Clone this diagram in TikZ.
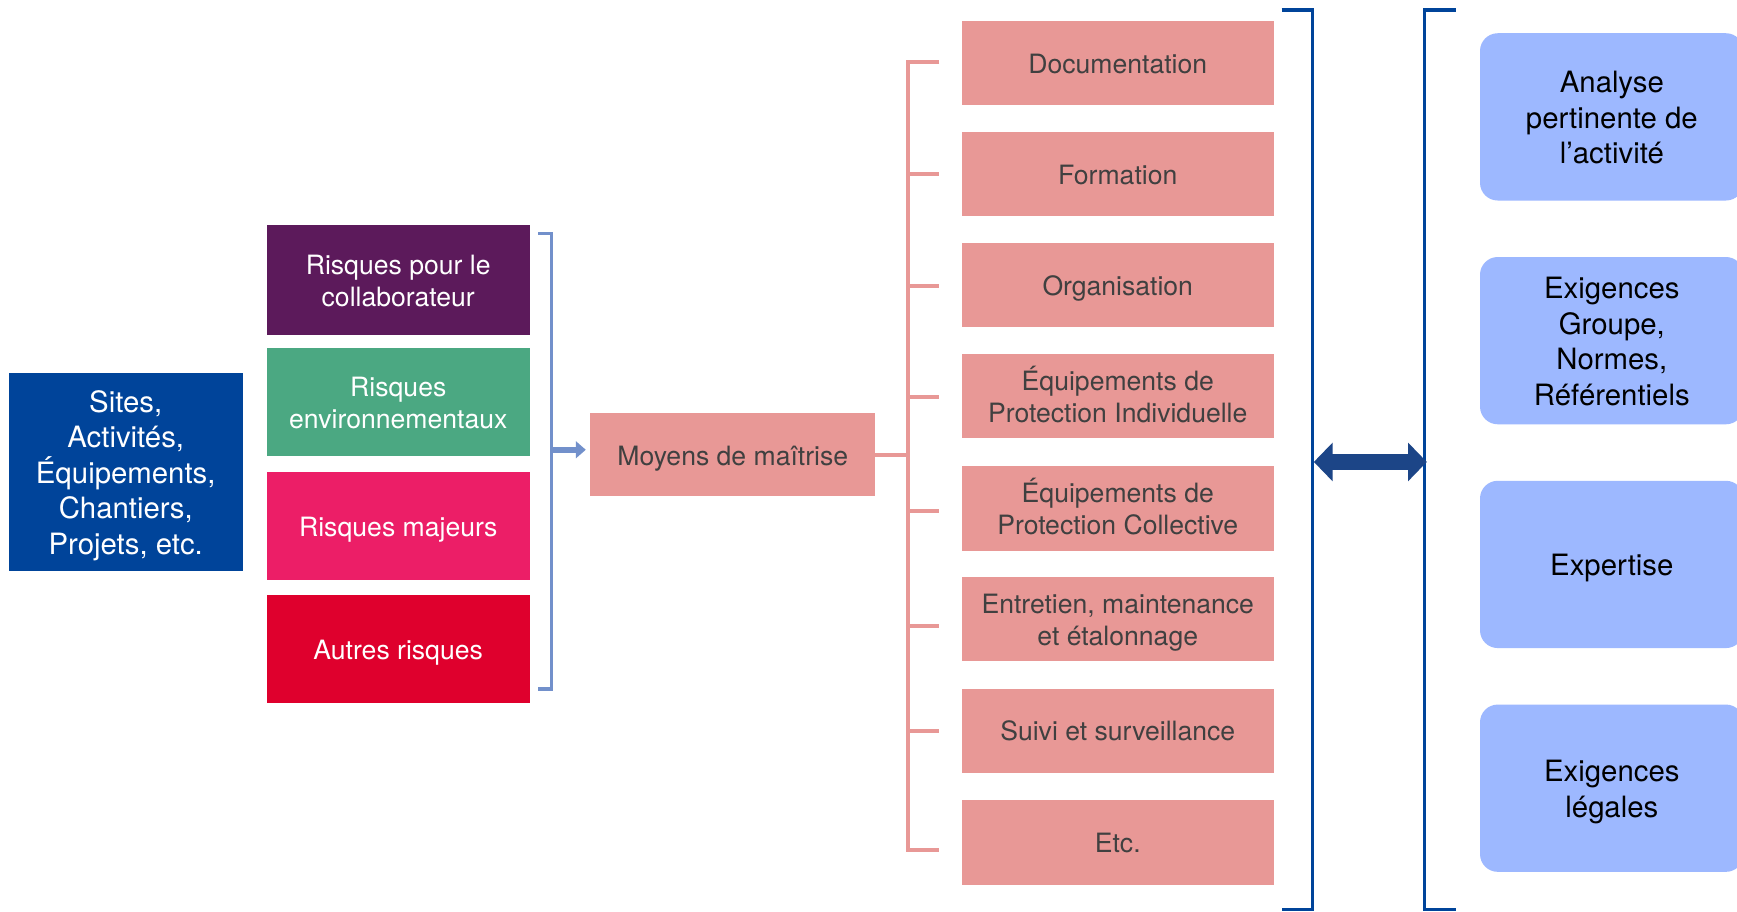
\documentclass[tikz,border=0pt]{standalone}
\usepackage{fontspec}
\setmainfont{TeX Gyre Heros}
\usetikzlibrary{arrows.meta}
\definecolor{sitesblue}{HTML}{00449A}
\definecolor{rpurple}{HTML}{5C1A5B}
\definecolor{rgreen}{HTML}{4BA882}
\definecolor{rpink}{HTML}{EC1E67}
\definecolor{rred}{HTML}{DF002D}
\definecolor{salmon}{HTML}{E89896}
\definecolor{lbracket}{HTML}{7290CB}
\definecolor{dbracket}{HTML}{00449A}
\definecolor{darrow}{HTML}{1C4587}
\definecolor{lblue}{HTML}{9DB8FF}
\definecolor{gtext}{HTML}{404040}
\newcommand\hstr{\rule{0pt}{1.03em}}
\newcommand\dstr{\rule[-0.25em]{0pt}{0.25em}}
\begin{document}
\begin{tikzpicture}[x=1pt,y=1pt,
  sitesbox/.style={rectangle, fill=sitesblue, inner sep=0pt, minimum width=211pt, minimum height=178pt, text=white, align=center, font=\fontsize{26.5}{32}\selectfont},
  riskbox/.style={rectangle, inner sep=0pt, minimum width=237pt, minimum height=98pt, text=white, align=center, font=\fontsize{24}{29}\selectfont},
  mbox/.style={rectangle, fill=salmon, inner sep=0pt, minimum width=282pt, minimum height=76pt, text=gtext, align=center, font=\fontsize{24}{29}\selectfont},
  rbox/.style={rectangle, rounded corners=16pt, fill=lblue, inner sep=0pt, minimum width=238pt, minimum height=151pt, text=black, align=center, font=\fontsize{26.5}{32}\selectfont},
  lbr/.style={draw=lbracket, line width=3pt},
  pbr/.style={draw=salmon, line width=3.5pt},
  dbr/.style={draw=dbracket, line width=3pt},
]
\useasboundingbox (0,0) rectangle (1568,-823);
\clip (0,0) rectangle (1568,-823);
\fill[white] (0,0) rectangle (1568,-823);

% left
\node[sitesbox] (sites) at (113.5,-426) {\hstr Sites,\\Activités,\\Équipements,\\Chantiers,\\Projets, etc.\dstr};

\node[riskbox, fill=rpurple, minimum height=99pt] (r1) at (359.5,-252.5) {\hstr Risques pour le\\collaborateur\dstr};
\node[riskbox, fill=rgreen] (r2) at (359.5,-363) {\hstr Risques\\environnementaux\dstr};
\node[riskbox, fill=rpink] (r3) at (359.5,-475) {\hstr Risques majeurs\dstr};
\node[riskbox, fill=rred] (r4) at (359.5,-586) {\hstr Autres risques\dstr};

% light blue bracket
\coordinate (lb1) at (486,-211);
\coordinate (lb2) at (498,-211);
\coordinate (lb3) at (498,-622);
\coordinate (lb4) at (486,-622);
\coordinate (lbm) at (498,-406);
\draw[lbr, line join=miter] (lb1) -- (lb2) -- (lb3) -- (lb4);

\node[mbox, minimum width=257pt, minimum height=75pt] (moy) at (661.5,-410.5) {\hstr Moyens de maîtrise\dstr};
\draw[draw=lbracket, line width=5pt, -{Triangle[length=9pt,width=15pt]}, shorten >=4pt] (lbm) -- (lbm -| moy.west);

% pink boxes
\node[mbox] (m1) at (1009,-57) {\hstr Documentation\dstr};
\node[mbox] (m2) at (1009,-157) {\hstr Formation\dstr};
\node[mbox] (m3) at (1009,-257) {\hstr Organisation\dstr};
\node[mbox] (m4) at (1009,-357.5) {\hstr Équipements de\\Protection Individuelle\dstr};
\node[mbox] (m5) at (1009,-459) {\hstr Équipements de\\Protection Collective\dstr};
\node[mbox] (m6) at (1009,-559) {\hstr Entretien, maintenance\\et étalonnage\dstr};
\node[mbox] (m7) at (1009,-659.5) {\hstr Suivi et surveillance\dstr};
\node[mbox] (m8) at (1009,-760.5) {\hstr Etc.\dstr};

% pink bracket
\coordinate (pm) at (820,-410.5);
\coordinate (ptop) at (820,-56);
\coordinate (pbot) at (820,-767);
\draw[pbr] (moy.east) -- (pm);
\draw[pbr, line join=miter] (848,-56) -- (ptop) -- (pbot) -- (848,-767);
\foreach \y [count=\i] in {157,258,358,461,565,660}{
  \coordinate (pt\i) at (820,-\y);
  \coordinate (pe\i) at (848,-\y);
  \draw[pbr] (pt\i) -- (pe\i);
}

% dark blue brackets
\coordinate (d1) at (1157,-9);
\coordinate (d2) at (1185,-9);
\coordinate (d3) at (1185,-821);
\coordinate (d4) at (1157,-821);
\draw[dbr, line join=miter] (d1) -- (d2) -- (d3) -- (d4);
\coordinate (e1) at (1314,-9);
\coordinate (e2) at (1286,-9);
\coordinate (e3) at (1286,-821);
\coordinate (e4) at (1314,-821);
\draw[dbr, line join=miter] (e1) -- (e2) -- (e3) -- (e4);

\coordinate (al) at (1186,-417);
\coordinate (ar) at (1288,-417);
\draw[draw=darrow, line width=14pt, {Triangle[length=17pt,width=34pt]}-{Triangle[length=17pt,width=34pt]}] (al) -- (ar);

% right boxes
\node[rbox] (b1) at (1455,-105.5) {\hstr Analyse\\pertinente de\\l’activité\dstr};
\node[rbox] (b2) at (1455,-307.5) {\hstr Exigences\\Groupe,\\Normes,\\Référentiels\dstr};
\node[rbox] (b3) at (1455,-509.5) {\hstr Expertise\dstr};
\node[rbox] (b4) at (1455,-711.5) {\hstr Exigences\\légales\dstr};
\end{tikzpicture}
\end{document}
